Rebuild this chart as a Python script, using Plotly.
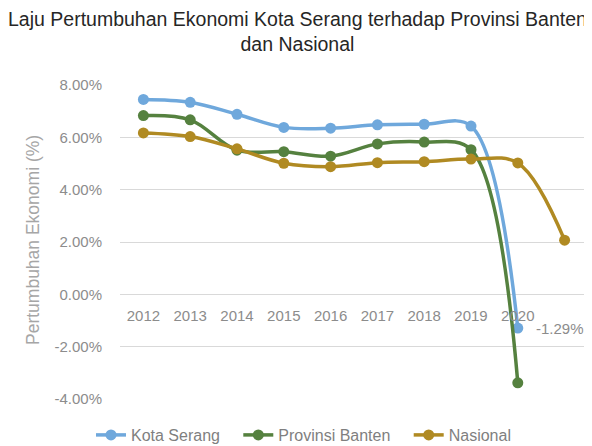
import plotly.graph_objects as go

years = [2012, 2013, 2014, 2015, 2016, 2017, 2018, 2019, 2020]
x_nasional = [2012, 2013, 2014, 2015, 2016, 2017, 2018, 2019, 2020, 2021]
kota_serang = [7.45, 7.34, 6.88, 6.38, 6.35, 6.48, 6.50, 6.43, -1.29]
provinsi_banten = [6.83, 6.67, 5.51, 5.45, 5.28, 5.75, 5.82, 5.53, -3.38]
nasional = [6.17, 6.03, 5.56, 5.01, 4.88, 5.03, 5.07, 5.17, 5.02, 2.07]
y_ticks = [-4, -2, 0, 2, 4, 6, 8]
y_tick_labels = ["-4.00%", "-2.00%", "0.00%", "2.00%", "4.00%", "6.00%", "8.00%"]

FONT = "Liberation Sans"
GREY = "#8C8C8C"
PAD = "\u00a0" * 3  # extra spacing between legend entries

fig = go.Figure()
series = [
    ("Kota Serang", PAD, years, kota_serang, "#6FA8DC"),
    ("Provinsi Banten", PAD, years, provinsi_banten, "#55813F"),
    ("Nasional", "", x_nasional, nasional, "#B08A22"),
]
for name, pad, xs, ys, col in series:
    fig.add_trace(go.Scatter(
        x=xs, y=ys, name=name + pad, mode="lines+markers",
        line=dict(color=col, width=3.5, shape="spline", smoothing=1.0),
        marker=dict(color=col, size=11),
    ))

fig.add_annotation(
    x=years[-1], y=kota_serang[-1], text=f"{kota_serang[-1]:.2f}%",
    showarrow=False, xanchor="left", xshift=16,
    font=dict(family=FONT, size=15, color=GREY),
)
fig.add_annotation(
    x=-87 / 468, y=0.5, xref="paper", yref="paper", yshift=2,
    text="Pertumbuhan Ekonomi (%)",
    xanchor="center", yanchor="middle",
    textangle=-90, showarrow=False, font=dict(family=FONT, size=17.5, color="#A6A6A6"),
)
fig.add_annotation(
    x=(297 - 120) / 468, y=1, xref="paper", yref="paper", yshift=79, yanchor="top",
    xanchor="center",
    text="Laju Pertumbuhan Ekonomi Kota Serang terhadap Provinsi Banten<br>dan Nasional",
    showarrow=False, font=dict(family=FONT, size=19.5, color="#262626"),
)

fig.update_layout(
    width=592, height=446,
    margin=dict(l=112, r=12, t=77, b=55, autoexpand=False),
    paper_bgcolor="white", plot_bgcolor="white",
    showlegend=True,
    legend=dict(
        orientation="h", x=(303.5 - 120) / 468, xanchor="center",
        y=-36 / 314, yanchor="middle",
        font=dict(family=FONT, size=16, color="#7F7F7F"),
        bgcolor="rgba(0,0,0,0)",
    ),
    xaxis=dict(
        range=[2011.5, 2021.5], tickmode="array", tickvals=years,
        ticktext=[str(y) for y in years],
        anchor="free", position=4 / 12,
        showgrid=False, zeroline=False, showline=False,
        ticks="outside", ticklen=8, tickcolor="rgba(0,0,0,0)",
        tickfont=dict(family=FONT, size=15, color=GREY),
    ),
    yaxis=dict(
        range=[-4, 8], tickmode="array", tickvals=y_ticks, ticktext=y_tick_labels,
        showgrid=True, gridcolor="#D9D9D9", gridwidth=1,
        zeroline=False, showline=False,
        ticks="outside", ticklen=14, tickcolor="rgba(0,0,0,0)",
        tickfont=dict(family=FONT, size=15, color=GREY),
    ),
)

fig.write_html("out.html")
